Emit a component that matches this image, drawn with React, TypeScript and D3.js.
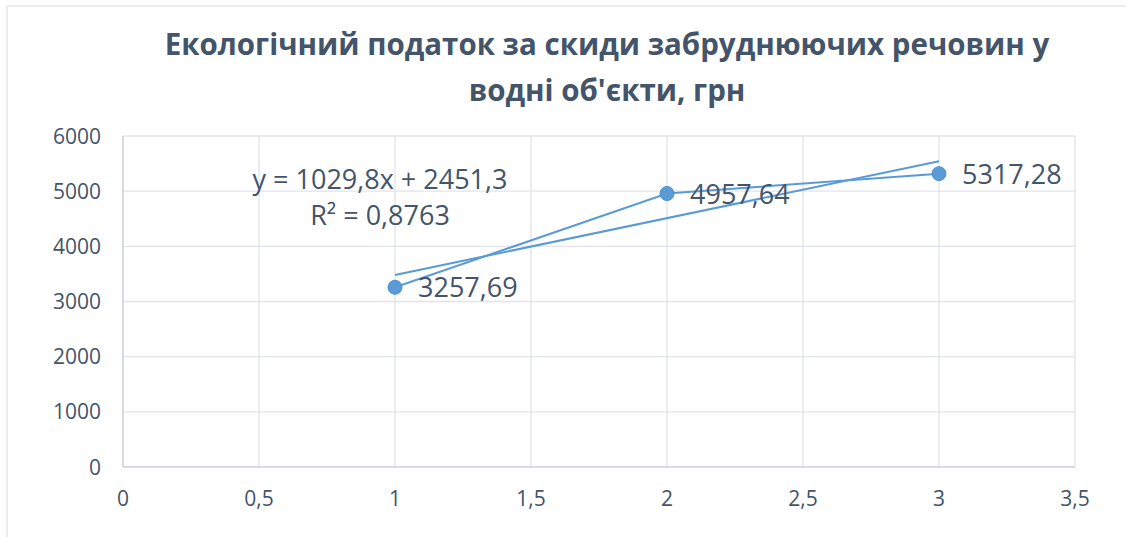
import React, { useEffect, useRef } from "react";
import * as d3 from "d3";

const xValues = [1, 2, 3];
const yValues = [3257.69, 4957.64, 5317.28];
const pointLabels = ["3257,69", "4957,64", "5317,28"];
const trendSlope = 1029.8;
const trendIntercept = 2451.3;
const equationLines = ["y = 1029,8x + 2451,3", "R² = 0,8763"];
const titleLines = ["Екологічний податок за скиди забруднюючих речовин у", "водні об'єкти, грн"];
const xTicks = [0, 0.5, 1, 1.5, 2, 2.5, 3, 3.5];
const yTicks = [0, 1000, 2000, 3000, 4000, 5000, 6000];

const fmt = (v: number) => String(v).replace(".", ",");

export default function App() {
  const ref = useRef<SVGSVGElement>(null);

  useEffect(() => {
    const width = 1126;
    const height = 537;
    const margin = { top: 136, right: 51, bottom: 70, left: 123 };
    const svg = d3.select(ref.current);
    svg.selectAll("*").remove();

    const font = "'Open Sans', sans-serif";
    const textColor = "#44546A";
    const blue = "#5B9BD5";

    // outer chart border (runs off the right and bottom edges)
    svg.append("rect")
      .attr("x", 7).attr("y", 6)
      .attr("width", width + 20).attr("height", height)
      .attr("fill", "#fff")
      .attr("stroke", "#E3E6EB").attr("stroke-width", 1.5);

    const x = d3.scaleLinear().domain([0, 3.5]).range([margin.left, width - margin.right]);
    const y = d3.scaleLinear().domain([0, 6000]).range([height - margin.bottom, margin.top]);

    const g = svg.append("g");

    // grid
    g.selectAll(".hgrid").data(yTicks.slice(1)).enter().append("line")
      .attr("x1", x(0)).attr("x2", x(3.5))
      .attr("y1", d => y(d)).attr("y2", d => y(d))
      .attr("stroke", "#E1E4EA").attr("stroke-width", 1.3);
    g.selectAll(".vgrid").data(xTicks.slice(1)).enter().append("line")
      .attr("y1", y(0)).attr("y2", y(6000))
      .attr("x1", d => x(d)).attr("x2", d => x(d))
      .attr("stroke", "#E1E4EA").attr("stroke-width", 1.3);

    // axes lines
    g.append("line").attr("x1", x(0)).attr("x2", x(3.5)).attr("y1", y(0)).attr("y2", y(0))
      .attr("stroke", "#CBD0D8").attr("stroke-width", 1.5);
    g.append("line").attr("x1", x(0)).attr("x2", x(0)).attr("y1", y(0)).attr("y2", y(6000))
      .attr("stroke", "#CBD0D8").attr("stroke-width", 1.5);

    // tick labels
    g.selectAll(".ylab").data(yTicks).enter().append("text")
      .attr("x", x(0) - 22).attr("y", d => y(d) + 7.5)
      .attr("text-anchor", "end")
      .style("font-family", font).style("font-size", "21px").attr("fill", textColor)
      .text(d => String(d));
    g.selectAll(".xlab").data(xTicks).enter().append("text")
      .attr("x", d => x(d)).attr("y", y(0) + 39)
      .attr("text-anchor", "middle")
      .style("font-family", font).style("font-size", "21px").attr("fill", textColor)
      .text(d => fmt(d));

    // data line
    const pts = xValues.map((v, i) => [v, yValues[i]] as [number, number]);
    const line = d3.line<[number, number]>().x(d => x(d[0])).y(d => y(d[1]));
    g.append("path").datum(pts).attr("d", line)
      .attr("fill", "none").attr("stroke", blue).attr("stroke-width", 2);

    // trend line
    const tr: [number, number][] = [xValues[0], xValues[xValues.length - 1]].map(v => [v, trendSlope * v + trendIntercept]);
    g.append("path").datum(tr).attr("d", line)
      .attr("fill", "none").attr("stroke", blue).attr("stroke-width", 2);

    // markers
    g.selectAll(".dot").data(pts).enter().append("circle")
      .attr("cx", d => x(d[0])).attr("cy", d => y(d[1])).attr("r", 7)
      .attr("fill", blue).attr("stroke", "#4E8FCB").attr("stroke-width", 1);

    // data labels
    g.selectAll(".dlab").data(pts).enter().append("text")
      .attr("x", d => x(d[0]) + 23).attr("y", d => y(d[1]) + 10)
      .style("font-family", font).style("font-size", "27px").attr("fill", textColor)
      .text((d, i) => pointLabels[i]);

    // equation
    g.selectAll(".eq").data(equationLines).enter().append("text")
      .attr("x", 380).attr("y", (d, i) => 189 + i * 36)
      .attr("text-anchor", "middle")
      .style("font-family", font).style("font-size", "27px").attr("fill", textColor)
      .text(d => d);

    // title
    svg.selectAll(".title").data(titleLines).enter().append("text")
      .attr("x", 607).attr("y", (d, i) => 55 + i * 46)
      .attr("text-anchor", "middle")
      .style("font-family", font).style("font-size", "29.5px").style("font-weight", "bold")
      .attr("fill", textColor)
      .text(d => d);
  }, []);

  return (
    <svg ref={ref} width={1126} height={537} style={{ position: "absolute", left: 0, top: 0 }} />
  );
}
